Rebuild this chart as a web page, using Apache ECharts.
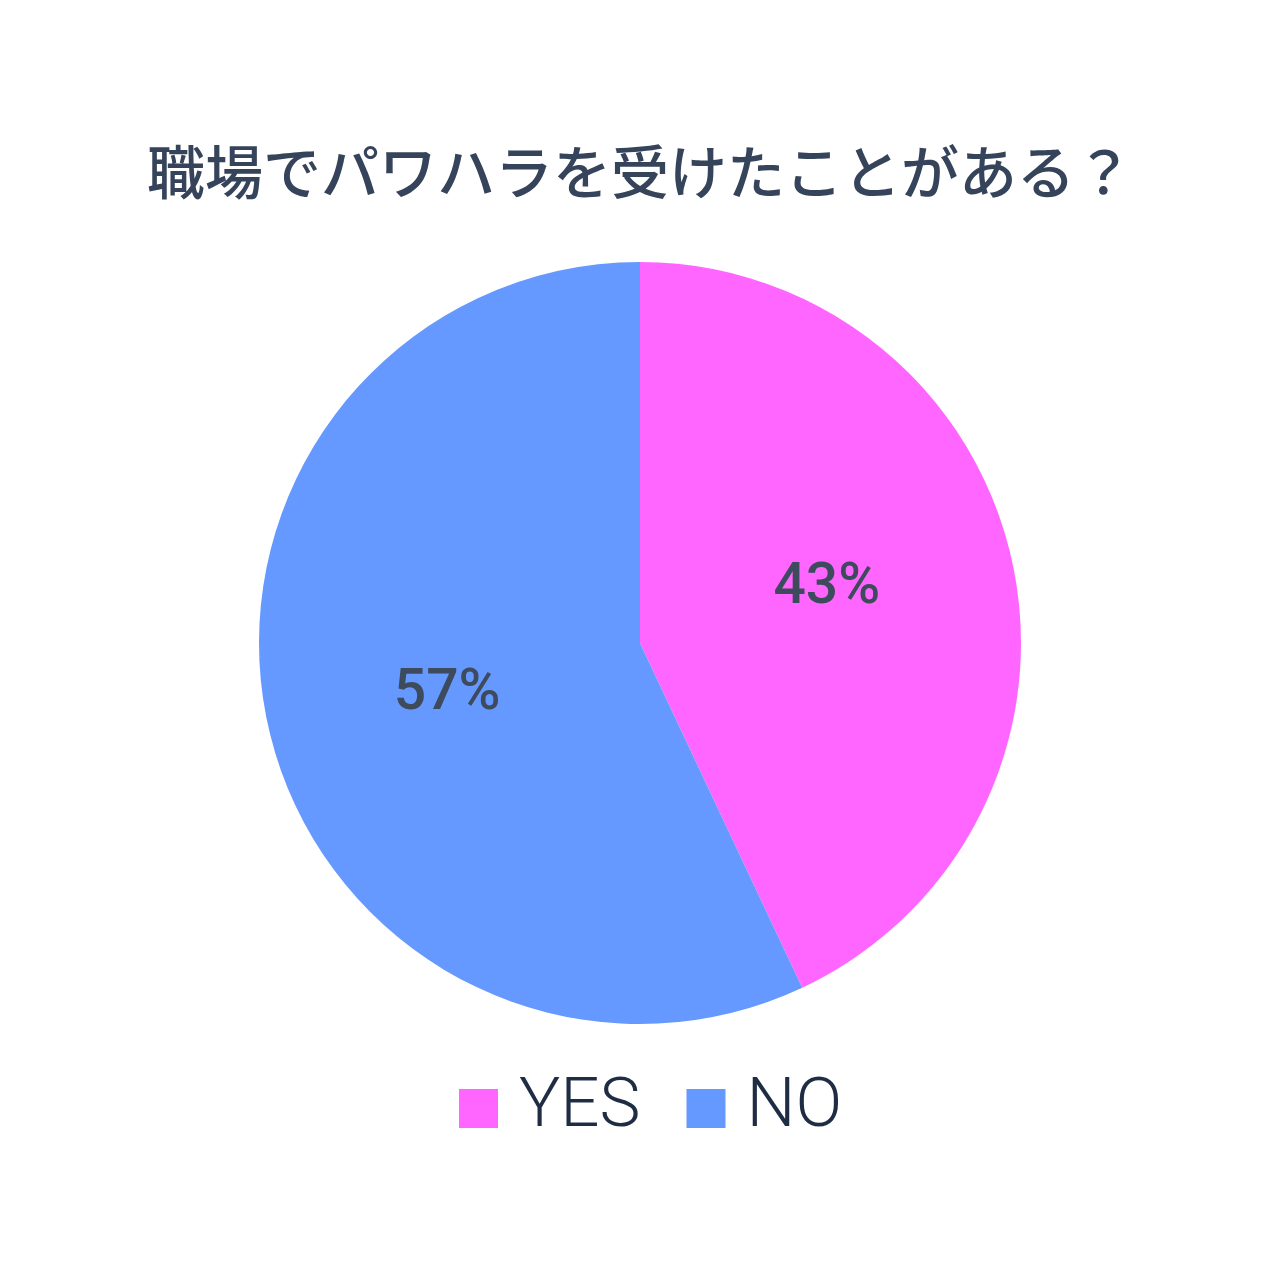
<!DOCTYPE html>
<html><head><meta charset="utf-8">
<script src="https://cdn.jsdelivr.net/npm/echarts@6/dist/echarts.min.js"></script>
<style>html,body{margin:0;padding:0;background:#fff}#c{width:1280px;height:1280px}</style>
</head><body><div id="c"></div>
<script>
const categories = ['YES', 'NO'];
const values = [43, 57];
const colors = ['#ff66ff', '#6699ff'];
const titleText = '職場でパワハラを受けたことがある？';

const labelOffsets = [[-2, -12], [-4, 10]];

const chart = echarts.init(document.getElementById('c'), null, {renderer: 'canvas'});
chart.setOption({
  backgroundColor: '#ffffff',
  title: {
    text: titleText,
    left: 'center',
    top: 138,
    textStyle: {fontFamily: 'Noto Sans CJK JP', fontWeight: 500, fontSize: 58, color: '#35445a'}
  },
  legend: {
    data: categories,
    bottom: 132,
    left: 454,
    itemWidth: 39,
    itemHeight: 39,
    itemGap: 46,
    icon: 'rect',
    textStyle: {fontFamily: 'Roboto', fontWeight: 300, fontSize: 69, color: '#1f2d44', padding: [0, 0, 0, 16]}
  },
  series: [{
    type: 'pie',
    center: [640, 643],
    radius: [0, 381],
    startAngle: 90,
    clockwise: true,
    silent: true,
    label: {
      position: 'inside',
      formatter: '{d}%',
      fontFamily: 'Roboto',
      fontWeight: 500,
      fontSize: 57,
      color: '#3d4b5c'
    },
    labelLine: {show: false},
    data: categories.map((c, i) => ({
      name: c, value: values[i],
      itemStyle: {color: colors[i]},
      label: {offset: labelOffsets[i]}
    }))
  }]
});
</script></body></html>
